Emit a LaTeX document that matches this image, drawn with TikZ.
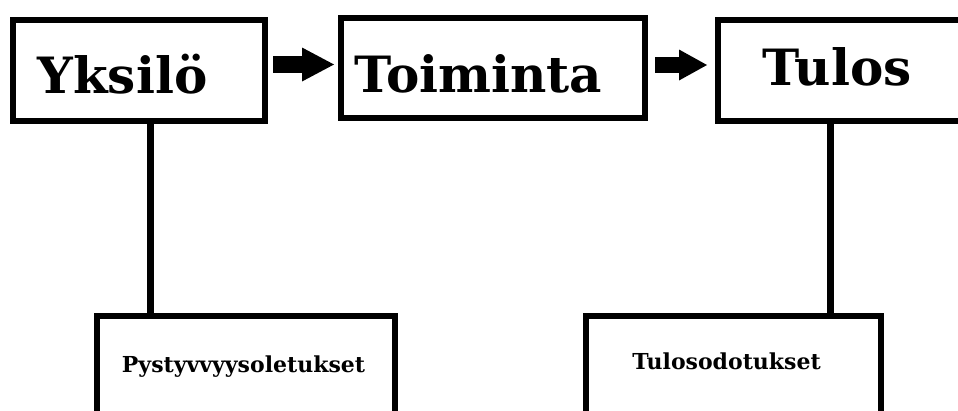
\documentclass[tikz,border=0pt]{standalone}
\usepackage{fontspec}
\setmainfont{DejaVu Serif}
\usetikzlibrary{arrows.meta,calc}
\begin{document}
\begin{tikzpicture}[x=1pt,y=-1pt,
  box/.style={draw=black,line width=6pt,inner sep=0pt},
  conn/.style={draw=black,line width=7pt},
  bigtext/.style={font=\fontsize{50}{60}\selectfont\bfseries,inner sep=0pt,anchor=base},
  smalltext/.style={font=\fontsize{22}{26}\selectfont\bfseries,inner sep=0pt,anchor=base},
  arrowA/.style={line width=17pt,-{Triangle[length=32pt,width=34pt,line width=0pt]}},
  arrowB/.style={line width=16pt,-{Triangle[length=28pt,width=31pt,line width=0pt]}}]
\useasboundingbox (0,0) rectangle (958,410);
\fill[white] (0,0) rectangle (958,410);
% boxes
\node[box,minimum width=252pt,minimum height=101pt] (yk) at (138.5,70) {};
\node[box,minimum width=304pt,minimum height=100pt] (to) at (492.5,67.5) {};
\node[box,minimum width=257.5pt,minimum height=101pt] (tu) at (846.25,70) {};
\node[box,minimum width=298pt,minimum height=114.5pt] (py) at (245.5,372.75) {};
\node[box,minimum width=295pt,minimum height=114.5pt] (td) at (733,372.75) {};
% texts
\node[bigtext] (ykt) at (122.5,93) {Yksilö};
\node[bigtext] (tot) at (478.5,92) {Toiminta};
\node[bigtext] (tut) at (837,85) {Tulos};
\node[smalltext] (pyt) at (243.5,372) {Pystyvvyysoletukset};
\node[smalltext] (tdt) at (726.5,369) {Tulosodotukset};
% connectors
\coordinate (l1) at (150.5,0);
\coordinate (l2) at (830.5,0);
\draw[conn] (yk.south -| l1) -- (py.north -| l1);
\draw[conn] (tu.south -| l2) -- (td.north -| l2);
\coordinate (a1) at (0,64.5);
\coordinate (a2) at (0,65);
\draw[arrowA,shorten <=5.5pt,shorten >=3.5pt] (yk.east |- a1) -- (to.west |- a1);
\draw[arrowB,shorten <=7.5pt,shorten >=7.5pt] (to.east |- a2) -- (tu.west |- a2);
\end{tikzpicture}
\end{document}
